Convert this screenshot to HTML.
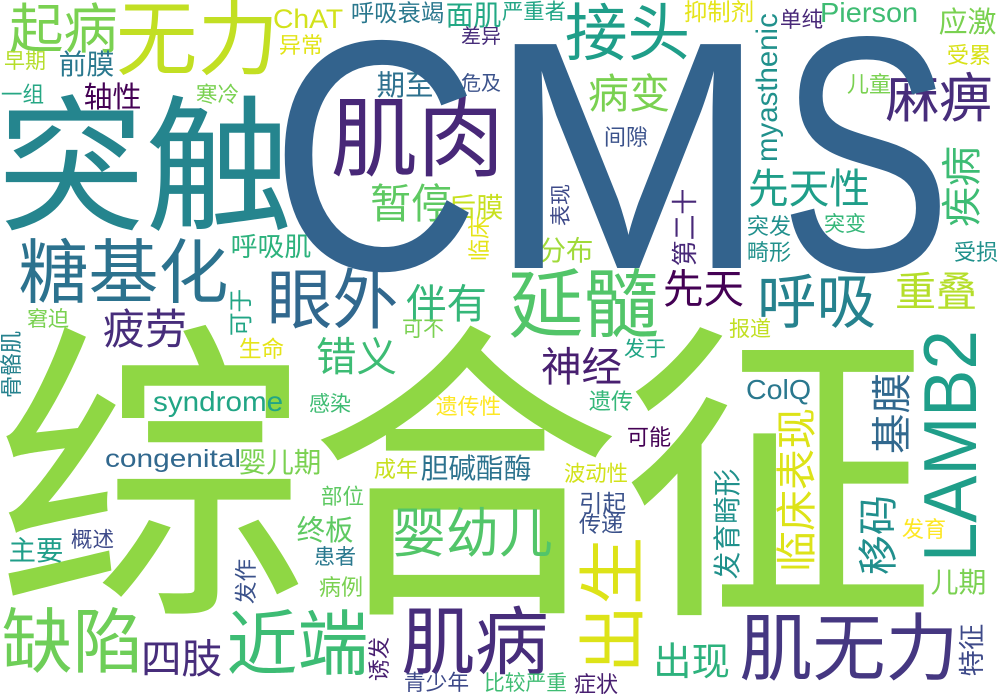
<!DOCTYPE html>
<html><head><meta charset="utf-8">
<style>
html,body{margin:0;padding:0;background:#fff;}
#cloud{position:relative;width:1000px;height:700px;overflow:hidden;background:#fff;}
.w{position:absolute;width:0;height:0;transform-origin:0 0;}
.w span{position:absolute;white-space:nowrap;line-height:1;transform-origin:0 0;}
.cjk{font-family:"Liberation Sans","Noto Sans CJK SC",sans-serif;}
.lat{font-family:"Liberation Sans","Noto Sans CJK SC",sans-serif;}
</style></head>
<body>
<div id="cloud"></div>
<script>
// [text, x0, y0, length, color, vertical]
const cjkWords = [
["综合征",10,335,910,"#8fd744",0],
["起病",12,5,103,"#7ad151",0],
["无力",120,2,155,"#c2df23",0],
["呼吸衰竭",352,3,91,"#2a788e",0],
["面肌",447,3,53,"#22a884",0],
["严重者",503,3,62,"#21a585",0],
["接头",568,5,119,"#1f9e89",0],
["抑制剂",685,2,68,"#e5e419",0],
["单纯",781,10,41,"#482878",0],
["应激",940,10,55,"#7ad151",0],
["受累",948,46,42,"#d8e219",0],
["异常",280,36,42,"#e2e418",0],
["差异",462,28,38,"#472c7a",0],
["早期",5,52,40,"#b5de2b",0],
["前膜",60,52,53,"#2a788e",0],
["一组",2,85,41,"#26a784",0],
["轴性",85,85,55,"#440154",0],
["寒冷",197,85,41,"#7ad151",0],
["期至",378,73,54,"#2d708e",0],
["危及",462,75,38,"#3b528b",0],
["儿童",848,75,42,"#7ad151",0],
["突触",5,100,280,"#25858e",0],
["肌肉",335,100,165,"#482878",0],
["麻痹",888,75,102,"#472d7b",0],
["病变",590,75,78,"#7ad151",0],
["间隙",605,128,42,"#3b528b",0],
["暂停",372,185,78,"#5ec962",0],
["后膜",450,195,52,"#c8e020",0],
["先天性",750,170,118,"#1f9e89",0],
["突发",748,217,42,"#21908d",0],
["突变",825,215,40,"#35b779",0],
["畸形",748,243,42,"#21918c",0],
["受损",955,243,42,"#21918c",0],
["分布",540,238,52,"#a0da39",0],
["糖基化",22,240,203,"#2c728e",0],
["呼吸肌",232,235,78,"#2db27d",0],
["眼外",270,270,125,"#31688e",0],
["伴有",408,285,77,"#35b779",0],
["延髓",512,270,143,"#52c569",0],
["先天",665,270,77,"#440154",0],
["呼吸",760,275,113,"#26828e",0],
["重叠",897,273,78,"#b5de2b",0],
["疲劳",105,310,80,"#472d7b",0],
["窘迫",28,310,40,"#7ad151",0],
["可不",403,320,40,"#7ad151",0],
["报道",730,320,40,"#c2df23",0],
["错义",318,338,77,"#3dbc74",0],
["生命",240,340,43,"#e5e419",0],
["神经",543,348,77,"#481f70",0],
["发于",625,340,40,"#21a585",0],
["感染",310,395,40,"#3fbc73",0],
["遗传性",437,397,63,"#fde725",0],
["遗传",590,392,42,"#35b779",0],
["可能",628,428,42,"#440154",0],
["婴儿期",240,450,80,"#7ad151",0],
["成年",375,460,42,"#c8e020",0],
["胆碱酯酶",422,456,108,"#2c728e",0],
["波动性",565,465,62,"#d2e21b",0],
["部位",322,487,41,"#5ec962",0],
["婴幼儿",395,510,155,"#52c569",0],
["终板",298,518,54,"#5ec962",0],
["引起",580,495,45,"#3b528b",0],
["传递",580,515,42,"#3b528b",0],
["主要",10,538,52,"#1f9e89",0],
["概述",72,530,41,"#3e4a89",0],
["患者",315,548,40,"#2a788e",0],
["发育",903,520,42,"#fde725",0],
["儿期",932,570,53,"#7ad151",0],
["病例",320,578,42,"#7ad151",0],
["缺陷",5,610,135,"#6ece58",0],
["四肢",143,640,77,"#472d7b",0],
["近端",230,612,135,"#3dbc74",0],
["肌病",405,608,140,"#472d7b",0],
["出现",655,645,73,"#2db27d",0],
["肌无力",743,615,212,"#453781",0],
["青少年",405,673,63,"#3e4a89",0],
["比较严重",485,675,81,"#3fbc73",0],
["症状",575,675,42,"#481f70",0],
["临床表现",778,410,160,"#dde318",1],
["基膜",873,375,77,"#31688e",1],
["移码",860,497,76,"#218f8d",1],
["发育畸形",715,470,108,"#21918c",1],
["疾病",943,148,77,"#3dbc74",1],
["第二十",675,190,75,"#482878",1],
["表现",552,185,40,"#3e4a89",1],
["临床",470,218,42,"#e5e419",1],
["可于",232,290,45,"#21a585",1],
["骨骼肌",2,332,65,"#26828e",1],
["发作",237,560,43,"#3b528b",1],
["诱发",370,638,42,"#481f70",1],
["特征",960,625,50,"#3e4a89",1],
["出生",582,540,130,"#dde318",1]
];
// [text, x0, capTop, length, capHeight, color, vertical]
const latWords = [
["C",287,35,175,235,"#33638d",0],
["M",507,35,241,233,"#33638d",0],
["S",795,32,142,240,"#33638d",0],
["ChAT",275,9,67,19,"#d2e21b",0],
["Pierson",822,3,95,20,"#3fbc73",0],
["syndrome",155,392,127,20,"#21a585",0],
["ColQ",748,380,62,20,"#2a788e",0],
["congenital",107,450,133,18,"#31688e",0],
["LAMB2",923,335,223,54,"#1f9e89",1],
["myasthenic",757,15,145,21,"#21918c",1]
];
const cloud = document.getElementById('cloud');
function wrap(x0,y0,len,vert){
  const d=document.createElement('div');
  d.className='w';
  d.style.left=x0+'px';
  d.style.top=(vert?y0+len:y0)+'px';
  if(vert) d.style.transform='rotate(-90deg)';
  cloud.appendChild(d);
  return d;
}
cjkWords.forEach(w=>{
  const [t,x0,y0,len,col,vert]=w;
  const n=t.length;
  const f=len/(n-0.1);
  const d=wrap(x0,y0,len,vert);
  
  
  const s=document.createElement('span');
  s.className='cjk';
  s.textContent=t;
  s.style.fontSize=f+'px';
  s.style.color=col;
  s.style.left=(-0.05*f)+'px';
  s.style.top=(-0.03*f)+'px';
  d.appendChild(s);
});
latWords.forEach(w=>{
  const [t,x0,y0,len,capH,col,vert]=w;
  const f=capH/0.716;
  const d=wrap(x0,y0,len,vert);
  
  
  const s=document.createElement('span');
  s.className='lat';
  s.textContent=t;
  s.style.fontSize=f+'px';
  s.style.color=col;
  d.appendChild(s);
  const W=s.offsetWidth;
  const sx=len/Math.max(1,(W-0.12*f));
  s.style.left=(-0.06*f*sx)+'px';
  s.style.top=(-0.13*f)+'px';
  s.style.transform='scaleX('+sx+')';
});
</script>
</body></html>
